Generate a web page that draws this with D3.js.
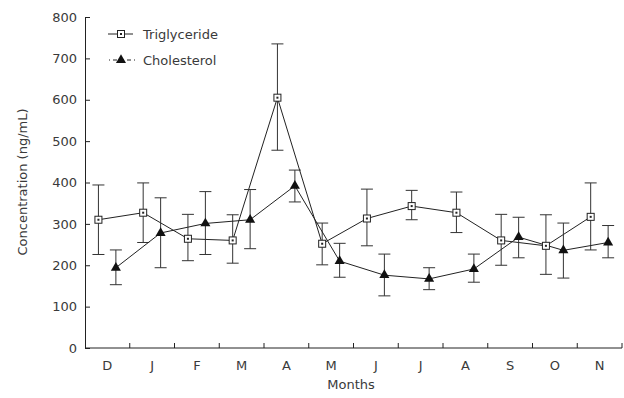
<!DOCTYPE html>
<html>
<head>
<meta charset="utf-8">
<script src="https://cdn.jsdelivr.net/npm/d3@7"></script>
<style>
  body { margin: 0; background: #fff; }
  text { font-family: "DejaVu Sans", sans-serif; fill: #3a3a3a; }
</style>
</head>
<body>
<script>
const months = ["D", "J", "F", "M", "A", "M", "J", "J", "A", "S", "O", "N"];
const triMean = [310, 327, 264, 260, 605, 252, 313, 343, 327, 260, 247, 317];
const triHigh = [394, 399, 323, 322, 735, 302, 384, 381, 377, 323, 322, 399];
const triLow = [226, 255, 211, 205, 478, 201, 247, 310, 279, 200, 178, 237];
const cholMean = [194, 278, 301, 310, 392, 210, 176, 167, 191, 268, 236, 255];
const cholHigh = [237, 363, 378, 383, 430, 253, 227, 194, 227, 316, 302, 296];
const cholLow = [153, 194, 226, 240, 353, 171, 126, 141, 159, 218, 169, 218];
const yTicks = [0, 100, 200, 300, 400, 500, 600, 700, 800];

const width = 624, height = 398;
const svg = d3.select("body").append("svg")
  .attr("width", width).attr("height", height);

const idx = months.map((_, i) => i);
const x = d3.scaleBand().domain(idx).range([85, 622]);
const y = d3.scaleLinear().domain([0, 800]).range([348, 17]);

// x axis with ticks between months
const xAxis = svg.append("g").attr("transform", "translate(0,348)");
xAxis.append("line").attr("x1", 85).attr("x2", 622).attr("stroke", "#222");
xAxis.selectAll(".tk").data(idx).enter().append("line")
  .attr("x1", (d) => x(d) + x.bandwidth()).attr("x2", (d) => x(d) + x.bandwidth())
  .attr("y1", 0).attr("y2", -5).attr("stroke", "#222");
xAxis.selectAll("text").data(idx).enter().append("text")
  .attr("x", (d) => x(d) + x.bandwidth() / 2).attr("y", 22)
  .attr("text-anchor", "middle").attr("font-size", 13)
  .text((d) => months[d]);

// y axis
svg.append("g")
  .attr("transform", "translate(85,0)")
  .call(d3.axisRight(y).tickValues(yTicks).tickSize(5).tickFormat(d3.format("d")))
  .call((g) => g.select(".domain").attr("stroke", "#222"))
  .call((g) => g.selectAll(".tick line").attr("stroke", "#222"))
  .call((g) => g.selectAll(".tick text")
    .attr("x", -8).attr("text-anchor", "end").attr("font-size", 13)
    .attr("fill", "#3a3a3a").style("font-family", "DejaVu Sans, sans-serif"));

svg.append("text")
  .attr("transform", "translate(27,182) rotate(-90)")
  .attr("text-anchor", "middle").attr("font-size", 13)
  .text("Concentration (ng/mL)");

svg.append("text")
  .attr("x", 351).attr("y", 389)
  .attr("text-anchor", "middle").attr("font-size", 13)
  .text("Months");

const series = [
  { name: "Triglyceride", mean: triMean, hi: triHigh, lo: triLow, off: 0.3 },
  { name: "Cholesterol", mean: cholMean, hi: cholHigh, lo: cholLow, off: 0.69 },
];

const line = d3.line().x((d) => d[0]).y((d) => d[1]);
const cap = 6;

series.forEach((s) => {
  const px = (i) => x(i) + x.bandwidth() * s.off;
  const g = svg.append("g");
  // error bars
  idx.forEach((i) => {
    g.append("line").attr("x1", px(i)).attr("x2", px(i))
      .attr("y1", y(s.hi[i])).attr("y2", y(s.lo[i])).attr("stroke", "#333");
    [s.hi[i], s.lo[i]].forEach((v) => {
      g.append("line").attr("x1", px(i) - cap).attr("x2", px(i) + cap)
        .attr("y1", y(v)).attr("y2", y(v)).attr("stroke", "#333");
    });
  });
  g.append("path")
    .datum(idx.map((i) => [px(i), y(s.mean[i])]))
    .attr("d", line).attr("fill", "none").attr("stroke", "#222").attr("stroke-width", 1);
});

const drawSquare = (g, cx, cy) => {
  g.append("rect").attr("x", cx - 3.5).attr("y", cy - 3.5).attr("width", 7).attr("height", 7)
    .attr("fill", "#fff").attr("stroke", "#222");
  g.append("rect").attr("x", cx - 1).attr("y", cy - 1).attr("width", 2).attr("height", 2)
    .attr("fill", "#222");
};
const tri = d3.symbol().type(d3.symbolTriangle).size(44);
const drawTriangle = (g, cx, cy) => {
  g.append("path").attr("d", tri).attr("transform", `translate(${cx},${cy})`)
    .attr("fill", "#111");
};

const markers = svg.append("g");
idx.forEach((i) => drawSquare(markers, x(i) + x.bandwidth() * 0.3, y(triMean[i])));
idx.forEach((i) => drawTriangle(markers, x(i) + x.bandwidth() * 0.69, y(cholMean[i])));

// legend
const lg = svg.append("g");
lg.append("line").attr("x1", 108).attr("x2", 133).attr("y1", 34).attr("y2", 34).attr("stroke", "#222");
drawSquare(lg, 121, 34);
lg.append("text").attr("x", 143).attr("y", 39).attr("font-size", 13).text("Triglyceride");
lg.append("line").attr("x1", 109).attr("x2", 136).attr("y1", 60).attr("y2", 60)
  .attr("stroke", "#222").attr("stroke-dasharray", "1,3,4,3,4,3,4,3");
drawTriangle(lg, 121, 60);
lg.append("text").attr("x", 143).attr("y", 65).attr("font-size", 13).text("Cholesterol");
</script>
</body>
</html>
